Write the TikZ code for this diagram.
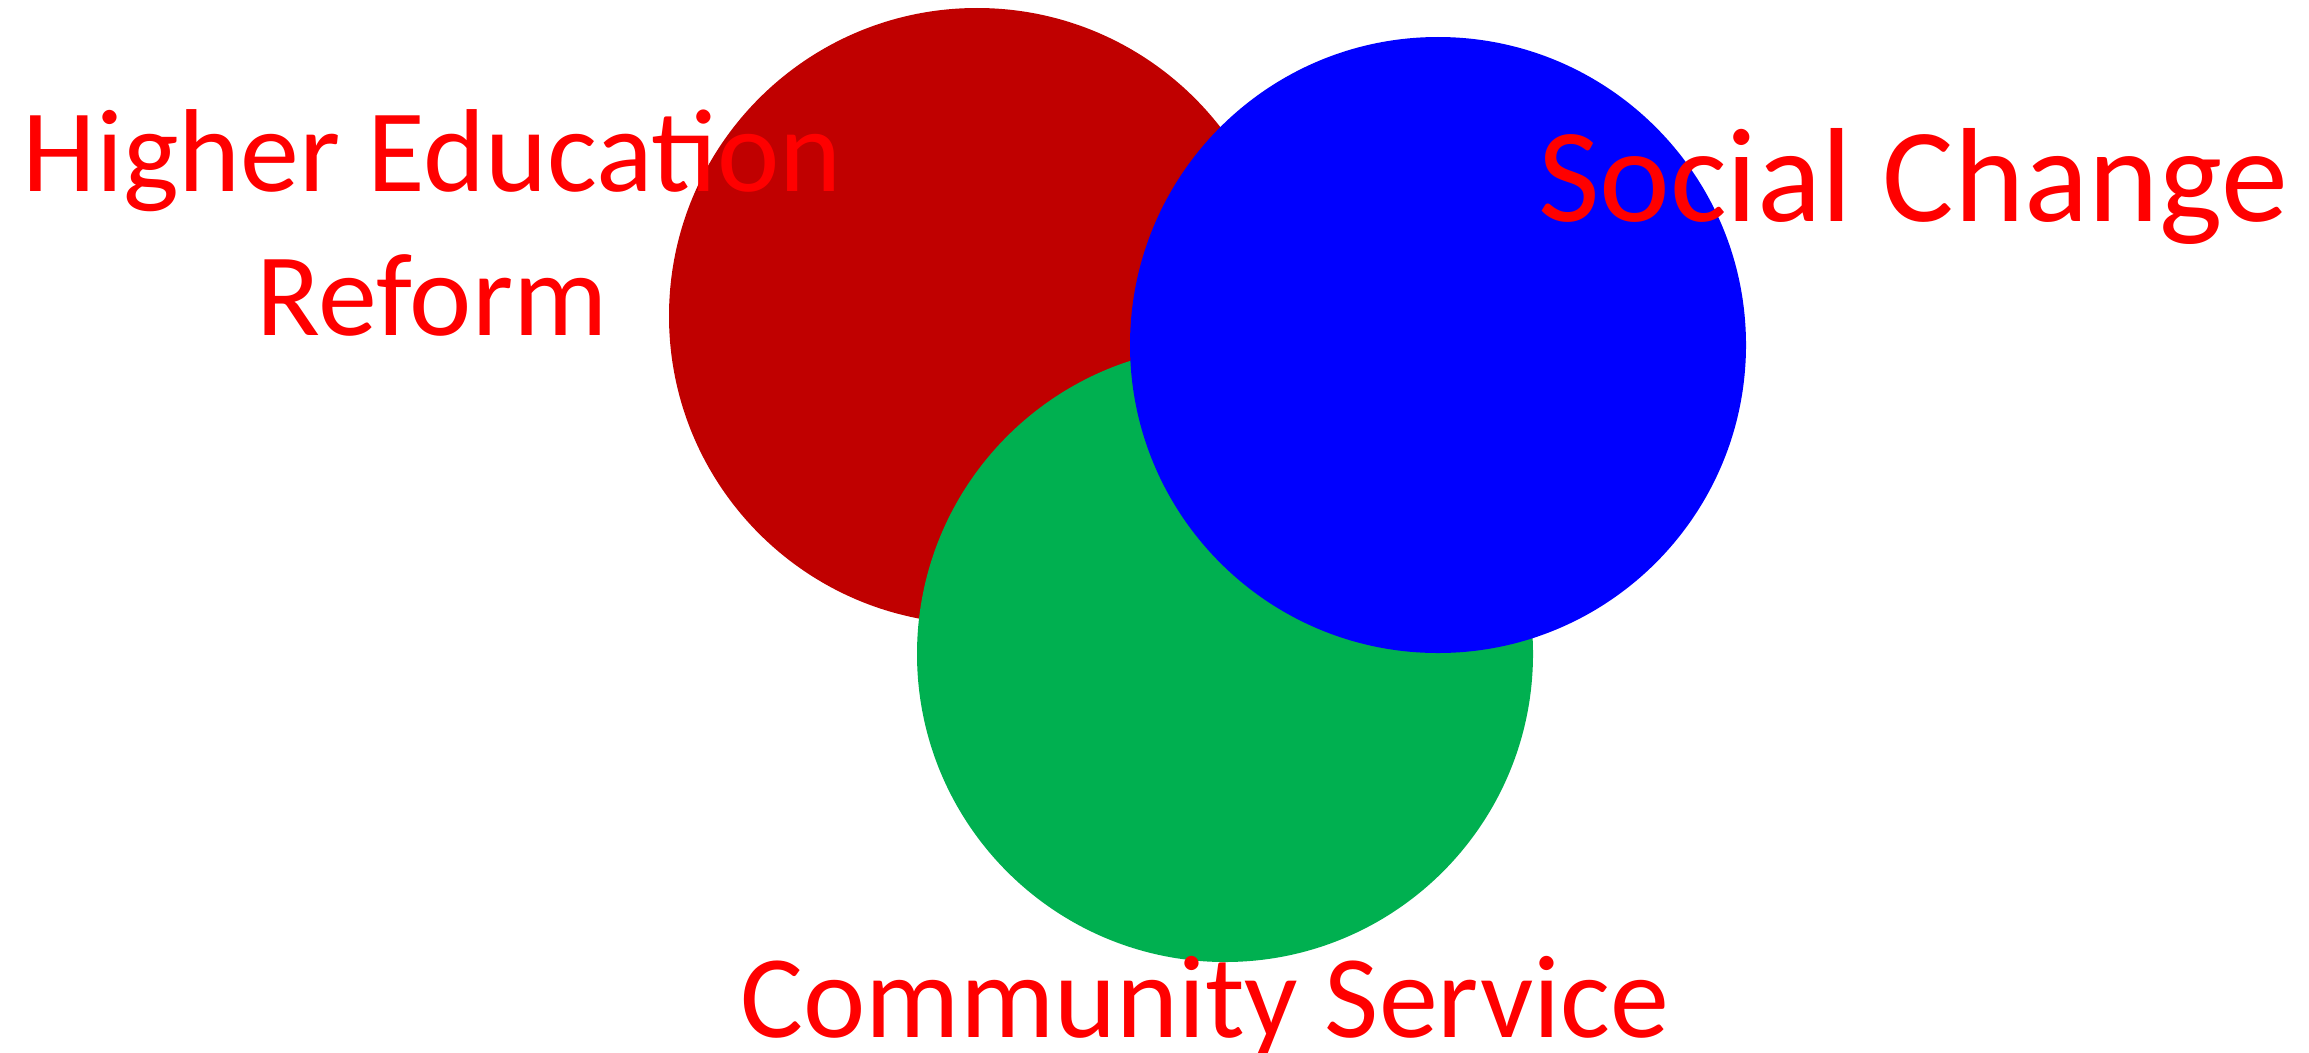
\documentclass[tikz,border=0pt]{standalone}
\usepackage{fontspec}
\setmainfont{Carlito}
\usepackage{tikz}
\usetikzlibrary{calc,positioning}
\definecolor{edured}{HTML}{C00000}
\definecolor{comgreen}{HTML}{00B050}
\definecolor{socblue}{HTML}{0000FF}
\definecolor{lblred}{HTML}{FF0000}
\tikzstyle{venn}=[
  x=1bp,y=-1bp
]
\tikzstyle{vennset}=[
  circle,inner sep=0pt,minimum size=616bp
]
\tikzstyle{vennlabel}=[
  text=lblred,inner sep=0pt,anchor=base,align=center,
  font=\fontsize{118bp}{144bp}\selectfont
]
\tikzstyle{biglabel}=[
  vennlabel,font=\fontsize{134bp}{160bp}\selectfont
]

\begin{document}
\begin{tikzpicture}[venn]

    \useasboundingbox (0,0) rectangle (2309,1052);
    \fill [white] (0,0) rectangle (2309,1052);

    \node (edu) at (977,316) [vennset,fill=edured] {};
    \node (com) at (1225,654) [vennset,fill=comgreen] {};
    \node (soc) at (1438,345) [vennset,fill=socblue] {};

    \node (edulbl) at ($(edu) + (-545,19)$) [vennlabel] {Higher Education\\Reform};
    \node (soclbl) at ($(soc) + (475,-124)$) [biglabel] {Social Change};
    \node (comlbl) at ($(com) + (-20,383)$) [vennlabel] {Community Service};

\end{tikzpicture}
\end{document}
